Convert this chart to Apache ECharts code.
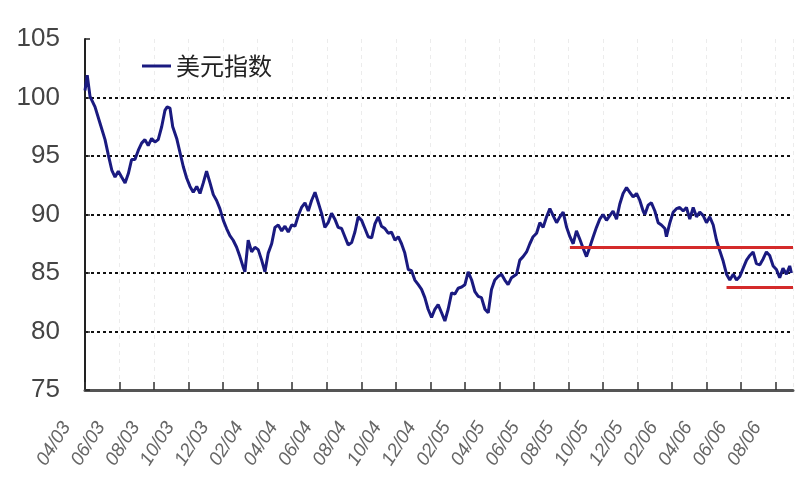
<!DOCTYPE html>
<html>
<head>
<meta charset="utf-8">
<script src="https://cdn.jsdelivr.net/npm/echarts@6/dist/echarts.min.js"></script>
<style>html,body{margin:0;padding:0;background:#fff}#c{width:800px;height:500px}</style>
</head>
<body>
<div id="c"></div>
<script>
// x positions in months since 2003-04 (tick every 2 months)
var tickLabels = ['04/03','06/03','08/03','10/03','12/03','02/04','04/04','06/04','08/04','10/04','12/04','02/05','04/05','06/05','08/05','10/05','12/05','02/06','04/06','06/06','08/06'];
var months = [0.00,0.13,0.29,0.58,0.87,1.16,1.35,1.55,1.74,1.93,2.12,2.32,2.51,2.70,2.89,3.09,3.28,3.47,3.66,3.86,4.05,4.24,4.44,4.63,4.76,4.92,5.08,5.31,5.50,5.69,5.89,6.08,6.27,6.47,6.66,6.85,7.04,7.24,7.43,7.62,
7.81,8.01,8.20,8.39,8.58,8.78,8.97,9.16,9.26,9.45,9.65,9.84,10.03,10.23,10.42,10.61,10.81,11.00,11.19,11.39,11.58,11.77,11.97,12.16,12.35,12.54,12.74,12.93,13.12,13.32,13.51,13.70,13.89,14.08,14.28,14.47,14.66,14.86,15.05,15.24,15.44,15.63,15.82,16.02,
16.21,16.40,16.60,16.79,16.98,17.17,17.37,17.56,17.75,17.95,18.14,18.33,18.52,18.72,18.91,19.10,19.30,19.49,19.68,19.87,20.07,20.26,20.45,20.65,20.84,21.03,21.23,21.42,21.61,21.81,22.00,22.19,22.39,22.58,22.77,22.96,23.16,23.35,23.54,23.73,23.92,24.12,24.31,24.50,
24.70,24.99,25.18,25.37,25.57,25.76,25.95,26.15,26.34,26.53,26.73,26.92,27.11,27.31,27.50,27.69,27.89,28.08,28.27,28.46,28.65,28.85,29.04,29.23,29.43,29.62,29.81,30.00,30.20,30.39,30.58,30.78,30.97,31.16,31.36,31.55,31.74,31.94,32.13,32.32,
32.42,32.61,32.80,33.00,33.19,33.38,33.58,33.67,33.87,34.06,34.25,34.44,34.64,34.83,35.02,35.22,35.41,35.60,35.80,35.99,36.18,36.38,36.57,36.76,36.96,37.15,37.34,37.54,37.73,37.92,38.11,38.31,38.50,38.69,38.88,39.08,39.27,39.46,39.65,39.85,40.04,40.23,40.42,40.62,40.81,40.91];
var dxy = [100.6,101.9,100.1,99.2,97.8,96.4,95.1,93.8,93.2,93.7,93.2,92.7,93.5,94.7,94.7,95.5,96.1,96.4,95.9,96.5,96.2,96.4,97.5,98.9,99.2,99.1,97.5,96.5,95.3,94.1,93.1,92.4,91.9,92.4,91.8,92.7,93.7,92.7,91.7,91.2,
90.5,89.5,88.8,88.2,87.8,87.2,86.4,85.5,85.1,87.8,86.8,87.2,87.0,86.1,85.1,86.7,87.5,88.9,89.1,88.6,89.0,88.5,89.1,89.0,89.9,90.6,91.0,90.3,91.2,91.9,91.0,90.1,88.9,89.3,90.1,89.6,88.9,88.8,88.1,87.4,87.6,88.5,89.8,89.5,
88.8,88.1,88.0,89.2,89.8,89.0,88.8,88.4,88.5,87.8,88.1,87.5,86.7,85.3,85.2,84.4,84.0,83.6,82.9,81.9,81.2,81.9,82.3,81.6,80.9,81.9,83.3,83.2,83.7,83.8,84.0,85.1,84.4,83.4,83.0,82.9,81.9,81.6,83.6,84.4,84.7,84.9,84.4,84.0,
84.6,84.9,86.1,86.4,86.8,87.5,88.1,88.4,89.3,88.9,89.8,90.5,89.9,89.3,89.8,90.2,88.9,88.1,87.5,88.6,87.9,87.1,86.4,87.2,88.1,88.9,89.6,90.0,89.5,89.9,90.3,89.6,90.9,91.8,92.3,91.9,91.5,91.8,91.2,90.3,
90.0,90.8,91.0,90.3,89.3,89.1,88.8,88.1,89.3,90.2,90.5,90.6,90.3,90.6,89.6,90.6,89.8,90.2,89.9,89.3,89.8,89.1,87.8,86.9,86.0,84.9,84.4,84.9,84.4,84.7,85.4,86.1,86.5,86.8,85.8,85.7,86.2,86.8,86.5,85.6,85.3,84.6,85.4,84.9,85.6,85.0];
// red horizontal reference lines: start month and level
var refStart = [28.08, 37.15];
var refLevel = [87.2, 83.8];
var xMax = 41.0;
var yTicks = [75, 80, 85, 90, 95, 100, 105];

var seriesData = months.map(function (m, i) { return [m, dxy[i]]; });
var markData = refStart.map(function (s, i) {
  return [{ coord: [s, refLevel[i]] }, { coord: [xMax, refLevel[i]] }];
});
var gridColors = yTicks.map(function (v, i) { return (i === 0 || i === yTicks.length - 1) ? 'rgba(0,0,0,0)' : '#111'; });

var chart = echarts.init(document.getElementById('c'), null, { renderer: 'canvas' });
chart.setOption({
  animation: false,
  backgroundColor: '#fff',
  grid: { left: 85, right: 7, top: 39, bottom: 110, containLabel: false },
  legend: {
    left: 137, top: 49,
    icon: 'rect', itemWidth: 29, itemHeight: 3, itemGap: 6,
    textStyle: { fontFamily: 'Noto Sans CJK SC', fontSize: 24, color: '#222' },
    data: ['美元指数']
  },
  xAxis: {
    type: 'value', min: 0, max: xMax, interval: 2,
    axisLine: { show: true, lineStyle: { color: '#555', width: 3 } },
    axisTick: { show: true, inside: true, length: 8, lineStyle: { color: '#333', width: 1.5 } },
    splitLine: { show: true, lineStyle: { color: '#ececec', type: [4, 4], width: 1 } },
    axisLabel: {
      rotate: 58, margin: 4, fontSize: 19, color: '#666', fontStyle: 'italic',
      fontFamily: 'Liberation Sans', padding: [0, 35, 39, 0],
      showMaxLabel: false,
      formatter: function (v) { var k = Math.round(v / 2); return tickLabels[k] || ''; }
    }
  },
  yAxis: {
    type: 'value', min: 75, max: 105, interval: 5,
    axisLine: { show: true, lineStyle: { color: '#222', width: 2 } },
    axisTick: { show: true, inside: true, length: 5, lineStyle: { color: '#222', width: 1.5 } },
    splitLine: { show: true, lineStyle: { color: gridColors, type: [3, 3], width: 2 } },
    axisLabel: {
      margin: 25, fontSize: 26, color: '#444',
      fontFamily: 'Liberation Sans Narrow, Liberation Sans, sans-serif'
    }
  },
  series: [{
    name: '美元指数', type: 'line', data: seriesData,
    showSymbol: false, symbol: 'none',
    lineStyle: { color: '#1a1a80', width: 3 },
    itemStyle: { color: '#1a1a80' },
    markLine: {
      silent: true, symbol: ['none', 'none'], animation: false,
      label: { show: false },
      lineStyle: { color: '#d42a2a', width: 3, type: 'solid' },
      data: markData
    }
  }]
});
</script>
</body>
</html>
